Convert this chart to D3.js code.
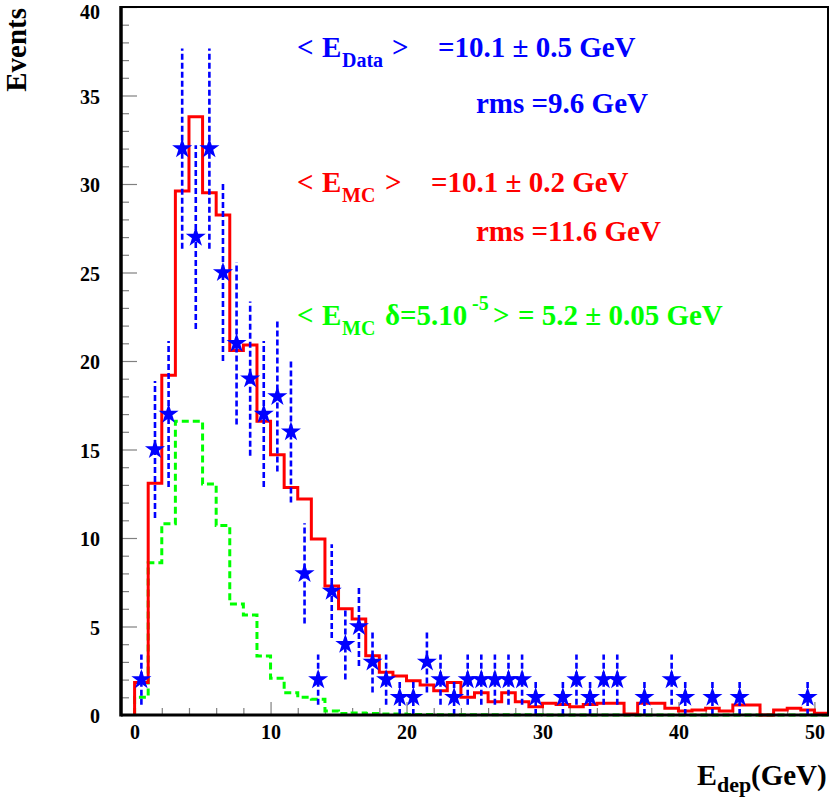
<!DOCTYPE html>
<html><head><meta charset="utf-8">
<script src="https://cdn.jsdelivr.net/npm/d3@7"></script>
<style>
body{margin:0;background:#fff}
svg{display:block}
text{font-family:"Liberation Serif","Times New Roman",Times,"DejaVu Serif",serif;font-weight:bold}
</style>
</head><body><svg id="c" width="830" height="800"></svg>
<script>
// ---- data (bin width 1 GeV, bins start at 0) ----
const binWidth = 1;
const dataCounts = [2,15,17,32,27,32,25,21,19,17,18,16,8,2,7,4,5,3,2,1,1,3,2,1,2,2,2,2,2,1,0,1,2,1,2,2,0,1,0,2,1,0,1,0,1,0,0,0,0,1,0];
const mcCounts = [1.83,13.1,19.2,29.6,33.8,29.5,28.25,20.6,20.9,16.6,14.7,12.85,12.2,9.94,7.29,6.0,5.42,3.35,2.41,2.2,1.94,1.69,1.37,1.83,1.0,1.26,0.75,1.26,0.75,0.47,0.66,0.6,0.47,0.6,0.66,0.66,0.05,0.66,0.66,0.38,0.23,0.28,0.38,0.23,0.56,0.56,0.0,0.28,0.38,0.28,0.1];
const mcDeltaCounts = [1.0,8.6,10.8,16.6,16.6,13.05,10.7,6.27,5.65,3.33,2.07,1.26,1.0,0.89,0.22,0.08,0.12,0.08,0.05,0.05,0.03,0.03,0.02,0.02,0.02,0.02,0.01,0.01,0.01,0.01,0,0,0,0,0,0,0,0,0,0,0,0,0,0,0,0,0,0,0,0,0];
const xMajorTicks = [0,10,20,30,40,50];
const xMinorTicks = [2,4,6,8,12,14,16,18,22,24,26,28,32,34,36,38,42,44,46,48];
const yMajorTicks = [0,5,10,15,20,25,30,35,40];
const yMinorTicks = [1,2,3,4,6,7,8,9,11,12,13,14,16,17,18,19,21,22,23,24,26,27,28,29,31,32,33,34,36,37,38,39];

const BLUE = "#0000ff", RED = "#ff0000", GREEN = "#00ff00";
const FONT = '"Liberation Serif","Times New Roman",Times,"DejaVu Serif",serif';

const svg = d3.select("#c");
const L = 121, R = 828, T = 7, B = 715;
const x = d3.scaleLinear().domain([-1, 51]).range([L, R]);
const y = d3.scaleLinear().domain([0, 40]).range([B, T]);

// ---- axes ticks ----
const yAxMajor = d3.axisLeft(y).tickValues(yMajorTicks).tickSizeInner(-16).tickSizeOuter(0).tickPadding(21);
const yAxMinor = d3.axisLeft(y).tickValues(yMinorTicks).tickSizeInner(-8).tickSizeOuter(0).tickFormat("");
const xAxMajor = d3.axisBottom(x).tickValues(xMajorTicks).tickSizeInner(-13).tickSizeOuter(0).tickPadding(10);
const xAxMinor = d3.axisBottom(x).tickValues(xMinorTicks).tickSizeInner(-7).tickSizeOuter(0).tickFormat("");

function styleAxis(g){
  g.select(".domain").remove();
  g.selectAll(".tick line").attr("stroke","#808080").attr("stroke-width",1.2);
  g.selectAll(".tick text").attr("fill","#000").style("font-size","20px")
   .style("font-family",FONT).style("font-weight","bold");
}
const gy = svg.append("g").attr("transform",`translate(${L},0)`).call(yAxMajor).call(styleAxis);
gy.selectAll(".tick text").attr("dy",d=> d === 40 ? "0.56em" : "0.38em");
svg.append("g").attr("transform",`translate(${L},0)`).call(yAxMinor).call(styleAxis);
svg.append("g").attr("transform",`translate(0,${B})`).call(xAxMajor).call(styleAxis);
svg.append("g").attr("transform",`translate(0,${B})`).call(xAxMinor).call(styleAxis);

// ---- histograms as steps ----
function stepPoints(counts){
  const pts = [[0,0]];
  counts.forEach((v,i)=>{ pts.push([i*binWidth, v]); pts.push([(i+1)*binWidth, v]); });
  return pts;
}
const line = d3.line().x(d=>x(d[0])).y(d=>y(d[1]));
svg.append("clipPath").attr("id","plotclip").append("rect")
  .attr("x",L).attr("y",T).attr("width",R-L).attr("height",B-T+2);
const plot = svg.append("g").attr("clip-path","url(#plotclip)");

plot.append("path").attr("d", line(stepPoints(mcDeltaCounts)))
  .attr("fill","none").attr("stroke",GREEN).attr("stroke-width",3).attr("stroke-dasharray","7,4");
plot.append("path").attr("d", line(stepPoints(mcCounts)))
  .attr("fill","none").attr("stroke",RED).attr("stroke-width",3);

// ---- data: error bars + stars ----
const pts = dataCounts.map((n,i)=>({xc:(i+0.5)*binWidth, n})).filter(d=>d.n>0);
plot.selectAll("line.err").data(pts).join("line").attr("class","err")
  .attr("x1",d=>x(d.xc)).attr("x2",d=>x(d.xc))
  .attr("y1",d=>y(d.n - Math.sqrt(d.n))).attr("y2",d=>y(d.n + Math.sqrt(d.n)))
  .attr("stroke",BLUE).attr("stroke-width",2.6).attr("stroke-dasharray","6,3");
const star = d3.symbol().type(d3.symbolStar).size(125);
plot.selectAll("path.star").data(pts).join("path").attr("class","star")
  .attr("d", star).attr("transform",d=>`translate(${x(d.xc)},${y(d.n)})`)
  .attr("fill",BLUE);

// ---- frame ----
svg.append("line").attr("x1",L).attr("x2",R+1).attr("y1",T).attr("y2",T).attr("stroke","#000").attr("stroke-width",2);
svg.append("line").attr("x1",R).attr("x2",R).attr("y1",T).attr("y2",B).attr("stroke","#000").attr("stroke-width",2);
svg.append("line").attr("x1",L).attr("x2",L).attr("y1",T-1).attr("y2",B+1.5).attr("stroke","#000").attr("stroke-width",3.5);
svg.append("line").attr("x1",L).attr("x2",R+1).attr("y1",B).attr("y2",B).attr("stroke","#000").attr("stroke-width",3);

// ---- axis titles ----
svg.append("text").attr("transform","translate(26,8) rotate(-90)").attr("text-anchor","end")
  .style("font-size","29px").attr("fill","#000").text("Events");
const xt = svg.append("text").attr("fill","#000");
xt.append("tspan").attr("x",697).attr("y",785).style("font-size","30px").text("E");
xt.append("tspan").attr("x",717).attr("y",792).style("font-size","22px").text("dep");
xt.append("tspan").attr("x",751).attr("y",785).style("font-size","29px").text("(GeV)");

// ---- annotations ----
function annot(color, parts){
  const t = svg.append("text").attr("fill",color);
  parts.forEach(p=>{
    t.append("tspan").attr("x",p[0]).attr("y",p[1]).style("font-size",(p[3]||29)+"px").text(p[2]);
  });
}
annot(BLUE, [[297,57,"<"],[322,57,"E"],[342,67,"Data",20],[392,57,">"],[438,57,"=10.1 \u00b1 0.5 GeV"]]);
annot(BLUE, [[476,113,"rms =9.6 GeV"]]);
annot(RED, [[297,192,"<"],[322,192,"E"],[342,202,"MC",20],[385,192,">"],[431,192,"=10.1 \u00b1 0.2 GeV"]]);
annot(RED, [[476,241,"rms =11.6 GeV"]]);
annot(GREEN, [[297,325,"<"],[322,325,"E"],[342,335,"MC",20],[385,325,"\u03b4=5.10"],[472,310,"-5",20],[493,325,">"],[518,325,"= 5.2 \u00b1 0.05 GeV"]]);
</script>
</body></html>
